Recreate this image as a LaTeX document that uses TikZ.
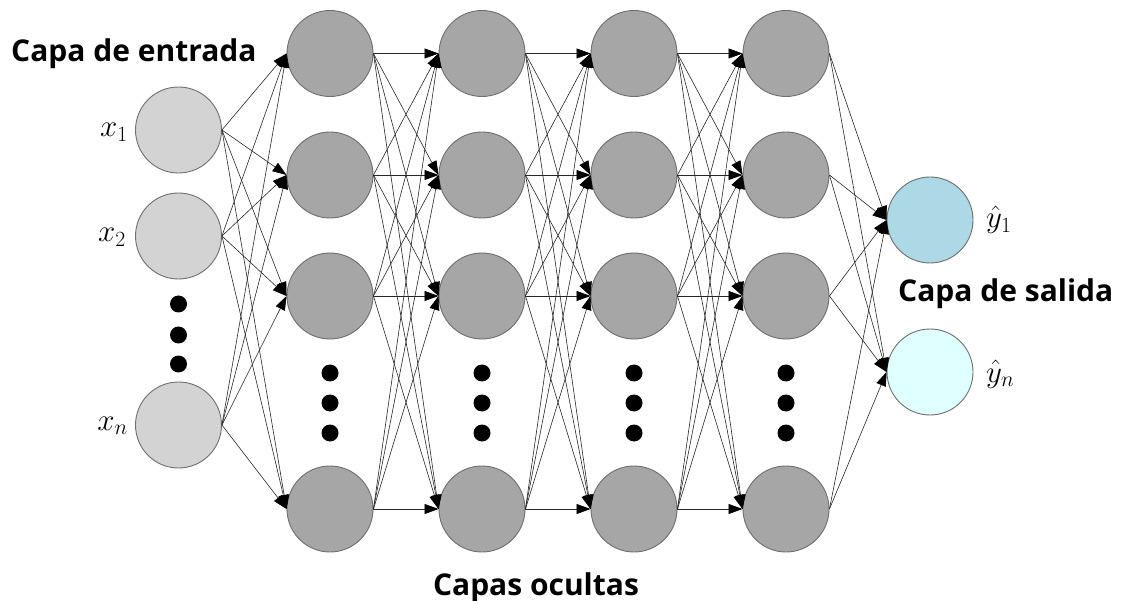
\RequirePackage{fix-cm}
\documentclass[tikz,border=0pt]{standalone}
\usepackage{fontspec}
\usepackage{amsmath}
\usetikzlibrary{arrows.meta}
\newfontfamily\labelfont{Open Sans}
\definecolor{inputfill}{HTML}{D3D3D3}
\definecolor{hiddenfill}{HTML}{A6A6A6}
\definecolor{outfillA}{HTML}{ADD8E6}
\definecolor{outfillB}{HTML}{E0FFFF}
\definecolor{rimgray}{HTML}{6E6E6E}
\tikzset{
  neuron/.style={circle, draw=rimgray, line width=0.9pt, minimum size=86pt, inner sep=0pt},
  innode/.style={neuron, fill=inputfill},
  hidnode/.style={neuron, fill=hiddenfill},
  outnodeA/.style={neuron, fill=outfillA},
  outnodeB/.style={neuron, fill=outfillB},
  dotmark/.style={circle, fill=black, minimum size=17pt, inner sep=0pt},
  link/.style={draw=black!85, line width=0.6pt, -{Triangle[length=14pt,width=10pt,color=black,fill=black]}},
  layertitle/.style={font=\labelfont\bfseries\fontsize{30}{34}\selectfont, inner sep=0pt},
  varlabel/.style={font=\fontsize{31}{36}\selectfont, inner sep=0pt}
}
\begin{document}
\begin{tikzpicture}[x=1pt,y=-1pt]
\useasboundingbox (0,0) rectangle (1129,601);

% input layer
\node[innode] (i1) at (178.5,130) {};
\node[innode] (i2) at (178.5,236) {};
\node[innode] (i3) at (178.5,425) {};
\foreach \k/\yy in {1/304,2/335,3/364}
  \node[dotmark] (idot\k) at (178.5,\yy) {};

% hidden layers
\foreach \c/\xx in {1/330,2/482,3/634,4/786}{
  \foreach \r/\yy in {1/53.5,2/175,3/296,4/509}
    \node[hidnode] (h\c\r) at (\xx,\yy) {};
  \foreach \k/\yy in {1/373,2/403,3/433}
    \node[dotmark] (hdot\c\k) at (\xx,\yy) {};
}

% output layer
\node[outnodeA] (o1) at (930,220) {};
\node[outnodeB] (o2) at (930,372) {};

% connections
\foreach \a in {1,2,3}
  \foreach \b in {1,2,3,4}
    \draw[link] (i\a.east) -- (h1\b.west);
\foreach \c/\n in {1/2,2/3,3/4}
  \foreach \a in {1,2,3,4}
    \foreach \b in {1,2,3,4}
      \draw[link] (h\c\a.east) -- (h\n\b.west);
\foreach \a in {1,2,3,4}
  \foreach \b in {1,2}
    \draw[link] (h4\a.east) -- (o\b.west);

% variable labels
\node[varlabel, anchor=base east] (lx1) at (128,137) {$x_1$};
\node[varlabel, anchor=base east] (lx2) at (126,242) {$x_2$};
\node[varlabel, anchor=base east] (lxn) at (128,430) {$x_n$};
\node[varlabel, anchor=base west] (ly1) at (986,228) {$\hat{y}_1$};
\node[varlabel, anchor=base west] (lyn) at (986,382) {$\hat{y}_n$};

% layer titles
\node[layertitle, anchor=base west] (tin) at (11,62) {Capa de entrada};
\node[layertitle, anchor=base west] (tout) at (898,302) {Capa de salida};
\node[layertitle, anchor=base] (thid) at (536,595) {Capas ocultas};
\end{tikzpicture}
\end{document}
